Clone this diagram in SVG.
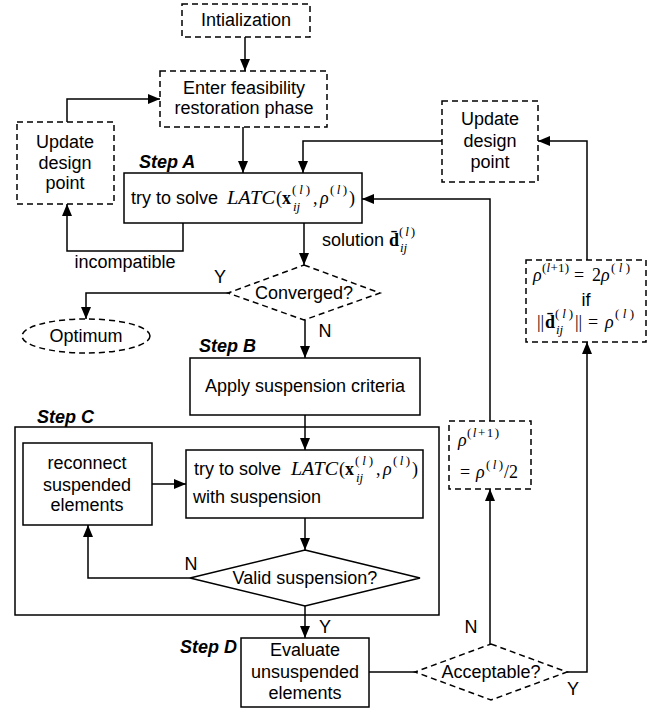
<svg xmlns="http://www.w3.org/2000/svg" width="664" height="712" viewBox="0 0 664 712">
<defs>
<marker id="ah" viewBox="0 0 12 10" refX="12" refY="5" markerWidth="12" markerHeight="10" markerUnits="userSpaceOnUse" orient="auto">
<path d="M0,0 L12,5 L0,10 z" fill="#000"/>
</marker>
<style>
.box{fill:#fff;stroke:#000;stroke-width:1.5}
.dash{fill:#fff;stroke:#000;stroke-width:1.5;stroke-dasharray:6 4}
.frame{fill:none;stroke:#000;stroke-width:1.5}
.t{font-family:"Liberation Sans",Arial,sans-serif;font-size:18px;fill:#000}
.c{text-anchor:middle}
.st{font-family:"Liberation Sans",Arial,sans-serif;font-size:18px;font-weight:bold;font-style:italic;fill:#000}
.m{font-family:"Liberation Serif","Times New Roman",serif;font-size:18px;fill:#000}
.s{font-size:13px}
.i{font-style:italic}
.b{font-weight:bold}
.ln{fill:none;stroke:#000;stroke-width:1.5}
.ar{fill:none;stroke:#000;stroke-width:1.5;marker-end:url(#ah)}
</style>
</defs>
<rect width="664" height="712" fill="#fff"/>

<g id="connectors">
<path class="ar" d="M245,37 V71"/>
<path class="ar" d="M67,122 V99 H160"/>
<path class="ar" d="M243,127 V173"/>
<path class="ar" d="M183,223 V251 H67 V204"/>
<path class="ar" d="M442,141 H303 V173"/>
<path class="ar" d="M304,223 V265"/>
<path class="ar" d="M228,293 H86 V319"/>
<path class="ar" d="M305,320 V358"/>
<path class="ar" d="M305,415 V450"/>
<path class="ar" d="M152,484 H186"/>
<path class="ar" d="M305,518 V550"/>
<path class="ar" d="M190,578 H88 V525"/>
<path class="ar" d="M305,606 V638"/>
<path class="ln" d="M369,672 H415"/>
<path class="ar" d="M490,644 V489"/>
<path class="ar" d="M490,421 V199 H362"/>
<path class="ar" d="M567,672 H587 V342"/>
<path class="ar" d="M587,260 V141 H538"/>
<text class="t" x="125" y="268" text-anchor="middle">incompatible</text>
<text class="t" x="322" y="246">solution</text>
<text class="m b" x="389" y="246">d&#x0304;</text>
<text class="m s" x="399" y="236" textLength="16" lengthAdjust="spacing">(<tspan class="i">l</tspan>)</text>
<text class="m s i" x="400" y="252">ij</text>
<text class="t c" x="220" y="283">Y</text>
<text class="t c" x="325" y="337">N</text>
<text class="t c" x="191" y="570">N</text>
<text class="t c" x="325" y="633">Y</text>
<text class="t c" x="471" y="633">N</text>
<text class="t c" x="573" y="695">Y</text>
</g>

<g id="init">
<rect class="dash" x="182" y="4" width="128" height="33"/>
<text class="t c" x="246" y="26">Intialization</text>
</g>

<g id="enter">
<rect class="dash" x="160" y="71" width="167" height="56"/>
<text class="t c" x="244" y="94">Enter feasibility</text>
<text class="t c" x="244" y="114">restoration phase</text>
</g>

<g id="updateLeft">
<rect class="dash" x="17" y="122" width="97" height="82"/>
<text class="t c" x="65" y="148">Update</text>
<text class="t c" x="65" y="169">design</text>
<text class="t c" x="65" y="189">point</text>
</g>

<g id="updateRight">
<rect class="dash" x="442" y="101" width="96" height="81"/>
<text class="t c" x="490" y="125">Update</text>
<text class="t c" x="490" y="147">design</text>
<text class="t c" x="490" y="168">point</text>
</g>

<g id="stepA">
<text class="st" x="139" y="168">Step A</text>
<rect class="box" x="124" y="173" width="238" height="50"/>
<text class="t" x="131" y="204">try to solve</text>
<text class="m i" x="227" y="204" textLength="48" lengthAdjust="spacingAndGlyphs">LATC</text>
<text class="m" x="276" y="204">(</text>
<text class="m b" x="282" y="204">x</text>
<text class="m s" x="292" y="194" textLength="18" lengthAdjust="spacing">(<tspan class="i">l</tspan>)</text>
<text class="m s i" x="293" y="211">ij</text>
<text class="m" x="313" y="204">,</text>
<text class="m i" x="320" y="204">ρ</text>
<text class="m s" x="330" y="194" textLength="17" lengthAdjust="spacing">(<tspan class="i">l</tspan>)</text>
<text class="m" x="349" y="204">)</text>
</g>

<g id="converged">
<polygon class="dash" points="304,265 380,293 304,320 228,293"/>
<text class="t c" x="304" y="299">Converged?</text>
</g>

<g id="optimum">
<ellipse class="dash" cx="86" cy="336" rx="64" ry="17"/>
<text class="t c" x="86" y="342">Optimum</text>
</g>

<g id="stepB">
<text class="st" x="199" y="352">Step B</text>
<rect class="box" x="190" y="358" width="230" height="57"/>
<text class="t c" x="305" y="392">Apply suspension criteria</text>
</g>

<g id="stepC">
<text class="st" x="37" y="423">Step C</text>
<rect class="frame" x="15" y="427" width="424" height="188"/>
</g>

<g id="reconnect">
<rect class="box" x="23" y="443" width="129" height="82"/>
<text class="t c" x="87" y="469">reconnect</text>
<text class="t c" x="87" y="491">suspended</text>
<text class="t c" x="87" y="511">elements</text>
</g>

<g id="trySuspension">
<rect class="box" x="186" y="450" width="237" height="68"/>
<text class="t" x="194" y="475">try to solve</text>
<text class="m i" x="291" y="475" textLength="47" lengthAdjust="spacingAndGlyphs">LATC</text>
<text class="m" x="339" y="475">(</text>
<text class="m b" x="345" y="475">x</text>
<text class="m s" x="355" y="465" textLength="18" lengthAdjust="spacing">(<tspan class="i">l</tspan>)</text>
<text class="m s i" x="356" y="482">ij</text>
<text class="m" x="376" y="475">,</text>
<text class="m i" x="383" y="475">ρ</text>
<text class="m s" x="393" y="465" textLength="17" lengthAdjust="spacing">(<tspan class="i">l</tspan>)</text>
<text class="m" x="412" y="475">)</text>
<text class="t" x="193" y="503">with suspension</text>
</g>

<g id="valid">
<polygon class="box" points="305,550 420,578 305,606 190,578"/>
<text class="t c" x="305" y="584">Valid suspension?</text>
</g>

<g id="stepD">
<text class="st" x="237" y="653" text-anchor="end">Step D</text>
<rect class="box" x="241" y="638" width="128" height="69"/>
<text class="t c" x="305" y="656">Evaluate</text>
<text class="t c" x="305" y="678">unsuspended</text>
<text class="t c" x="305" y="699">elements</text>
</g>

<g id="acceptable">
<polygon class="dash" points="491,644 567,672 491,700 415,672"/>
<text class="t c" x="491" y="678">Acceptable?</text>
</g>

<g id="halve">
<rect class="dash" x="449" y="421" width="82" height="68"/>
<text class="m i" x="458" y="446">ρ</text>
<text class="m s" x="467" y="437" textLength="32" lengthAdjust="spacing">(<tspan class="i">l</tspan>+1)</text>
<text class="m" x="460" y="478">=</text>
<text class="m i" x="476" y="478">ρ</text>
<text class="m s" x="486" y="469" textLength="17" lengthAdjust="spacing">(<tspan class="i">l</tspan>)</text>
<text class="m" x="504" y="478">/2</text>
</g>

<g id="double">
<rect class="dash" x="526" y="260" width="120" height="82"/>
<text class="m i" x="533" y="281">ρ</text>
<text class="m s" x="542" y="272" textLength="27" lengthAdjust="spacing">(<tspan class="i">l</tspan>+1)</text>
<text class="m" x="574" y="281">=</text>
<text class="m" x="592" y="281">2</text>
<text class="m i" x="601" y="281">ρ</text>
<text class="m s" x="611" y="272" textLength="19" lengthAdjust="spacing">(<tspan class="i">l</tspan>)</text>
<text class="t c" x="586" y="306">if</text>
<text class="m" x="537" y="328">||</text>
<text class="m b" x="545" y="328">d&#x0304;</text>
<text class="m s" x="555" y="318" textLength="18" lengthAdjust="spacing">(<tspan class="i">l</tspan>)</text>
<text class="m s i" x="556" y="334">ij</text>
<text class="m" x="575" y="328">||</text>
<text class="m" x="588" y="328">=</text>
<text class="m i" x="605" y="328">ρ</text>
<text class="m s" x="615" y="318" textLength="19" lengthAdjust="spacing">(<tspan class="i">l</tspan>)</text>
</g>
</svg>
